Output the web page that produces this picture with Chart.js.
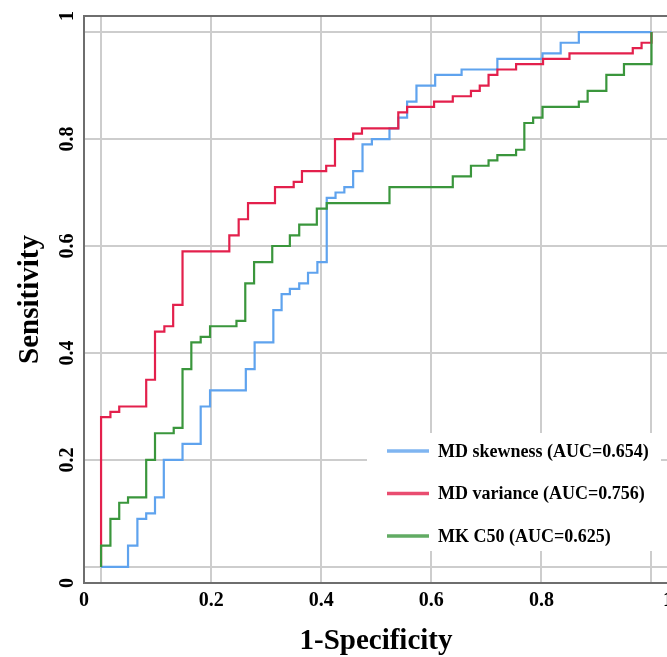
<!DOCTYPE html>
<html>
<head>
<meta charset="utf-8">
<script src="https://cdn.jsdelivr.net/npm/chart.js@4.4.0/dist/chart.umd.min.js"></script>
<style>
  html, body { margin: 0; padding: 0; background: #fff; overflow: hidden; }
  #wrap { width: 700px; height: 657px; }
</style>
</head>
<body>
<div id="wrap"><canvas id="roc" width="700" height="657"></canvas></div>
<script>
// ROC points (1-specificity, sensitivity), one point per step
const skewFpr = [0, 0.049, 0.066, 0.082, 0.098, 0.114, 0.148, 0.181, 0.198, 0.263, 0.279, 0.313, 0.328, 0.343, 0.360, 0.376, 0.393, 0.410, 0.426, 0.442, 0.458, 0.475, 0.492, 0.524, 0.540, 0.556, 0.573, 0.607, 0.655, 0.720, 0.802, 0.835, 0.868, 1];
const skewTpr = [0, 0.04, 0.09, 0.10, 0.13, 0.20, 0.23, 0.30, 0.33, 0.37, 0.42, 0.48, 0.51, 0.52, 0.53, 0.55, 0.57, 0.69, 0.70, 0.71, 0.74, 0.79, 0.80, 0.82, 0.84, 0.87, 0.90, 0.92, 0.93, 0.95, 0.96, 0.98, 1.0, 1];

const varFpr = [0, 0, 0.017, 0.033, 0.082, 0.098, 0.115, 0.131, 0.148, 0.233, 0.250, 0.267, 0.316, 0.350, 0.365, 0.409, 0.425, 0.458, 0.474, 0.540, 0.556, 0.605, 0.639, 0.672, 0.688, 0.704, 0.720, 0.754, 0.803, 0.851, 0.966, 0.982, 1];
const varTpr = [0, 0.28, 0.29, 0.30, 0.35, 0.44, 0.45, 0.49, 0.59, 0.62, 0.65, 0.68, 0.71, 0.72, 0.74, 0.75, 0.80, 0.81, 0.82, 0.85, 0.86, 0.87, 0.88, 0.89, 0.90, 0.92, 0.93, 0.94, 0.95, 0.96, 0.97, 0.98, 1];

const c50Fpr = [0, 0, 0.017, 0.033, 0.049, 0.082, 0.098, 0.132, 0.148, 0.164, 0.181, 0.198, 0.246, 0.262, 0.278, 0.311, 0.343, 0.360, 0.392, 0.410, 0.524, 0.639, 0.672, 0.704, 0.720, 0.754, 0.769, 0.785, 0.802, 0.868, 0.884, 0.918, 0.950, 1];
const c50Tpr = [0, 0.04, 0.09, 0.12, 0.13, 0.20, 0.25, 0.26, 0.37, 0.42, 0.43, 0.45, 0.46, 0.53, 0.57, 0.60, 0.62, 0.64, 0.67, 0.68, 0.71, 0.73, 0.75, 0.76, 0.77, 0.78, 0.83, 0.84, 0.86, 0.87, 0.89, 0.92, 0.94, 1];

const seriesLabels = ['MD skewness (AUC=0.654)', 'MD variance (AUC=0.756)', 'MK C50 (AUC=0.625)'];
const seriesColors = ['#5fa3ee', '#e3204c', '#3a963c'];

// axis ticks: the end labels "0" and "1" sit on the frame, the 0 / 1 gridlines are unlabeled
const xTickValues = [-0.031, 0, 0.2, 0.4, 0.6, 0.8, 1, 1.03];
const xTickLabels = ['0', '', '0.2', '0.4', '0.6', '0.8', '', '1'];
const yTickValues = [-0.03, 0, 0.2, 0.4, 0.6, 0.8, 1, 1.03];
const yTickLabels = ['0', '', '0.2', '0.4', '0.6', '0.8', '', '1'];

const FRAME = '#6e6e6e';
const GRID = '#cdcdcd';
const SERIF = "'Liberation Serif', 'Times New Roman', serif";

function toPoints(xs, ys) {
  return xs.map((x, i) => ({ x: x, y: ys[i] }));
}

function gridColor(ctx) {
  const n = ctx.chart.scales[ctx.scale.id].ticks.length;
  return (ctx.index === 0 || ctx.index === n - 1) ? FRAME : GRID;
}

// legend drawn in a white box inside the plot, lower right
const boxLegend = {
  id: 'boxLegend',
  afterDatasetsDraw(chart) {
    const { ctx, chartArea } = chart;
    const left = chartArea.right - 301;
    const top = chartArea.bottom - 150;
    ctx.save();
    ctx.fillStyle = '#fff';
    ctx.fillRect(left, top, 294, 118);
    ctx.font = "bold 18px " + SERIF;
    ctx.textBaseline = 'middle';
    ctx.fillStyle = '#000';
    chart.data.datasets.forEach((ds, i) => {
      const y = top + 18 + i * 42.5;
      ctx.globalAlpha = 0.8;
      ctx.strokeStyle = ds.borderColor;
      ctx.lineWidth = 3.5;
      ctx.beginPath();
      ctx.moveTo(left + 20, y);
      ctx.lineTo(left + 62, y);
      ctx.stroke();
      ctx.globalAlpha = 1;
      ctx.fillText(ds.label, left + 71, y + 1);
    });
    ctx.restore();
  }
};

new Chart(document.getElementById('roc'), {
  type: 'line',
  data: {
    datasets: [
      { label: seriesLabels[0], data: toPoints(skewFpr, skewTpr), borderColor: seriesColors[0], order: 3 },
      { label: seriesLabels[1], data: toPoints(varFpr, varTpr), borderColor: seriesColors[1], order: 2 },
      { label: seriesLabels[2], data: toPoints(c50Fpr, c50Tpr), borderColor: seriesColors[2], order: 1 }
    ]
  },
  options: {
    responsive: false,
    animation: false,
    events: [],
    layout: { padding: { left: 0, top: 14, right: 32, bottom: 0 } },
    elements: {
      line: { borderWidth: 2.2, stepped: 'before', fill: false },
      point: { radius: 0 }
    },
    plugins: {
      legend: { display: false },
      tooltip: { enabled: false }
    },
    scales: {
      x: {
        type: 'linear',
        min: xTickValues[0],
        max: xTickValues[xTickValues.length - 1],
        afterBuildTicks: s => { s.ticks = xTickValues.map(v => ({ value: v })); },
        afterFit: s => { s.height = 74; },
        ticks: {
          autoSkip: false,
          maxRotation: 0,
          padding: 6,
          color: '#000',
          font: { family: SERIF, size: 20, weight: 'bold' },
          callback: (v, i) => xTickLabels[i]
        },
        grid: { color: gridColor, lineWidth: 2, drawTicks: false },
        border: { display: true, color: FRAME, width: 2 },
        title: {
          display: true,
          text: '1-Specificity',
          color: '#000',
          font: { family: SERIF, size: 29, weight: 'bold', lineHeight: 1 },
          padding: { top: 0, bottom: 1 }
        }
      },
      y: {
        type: 'linear',
        min: yTickValues[0],
        max: yTickValues[yTickValues.length - 1],
        afterBuildTicks: s => { s.ticks = yTickValues.map(v => ({ value: v })); },
        afterFit: s => { s.width = 84; },
        ticks: {
          autoSkip: false,
          minRotation: 90,
          maxRotation: 90,
          crossAlign: 'center',
          padding: 4,
          color: '#000',
          font: { family: SERIF, size: 20, weight: 'bold' },
          callback: (v, i) => yTickLabels[i]
        },
        grid: { color: gridColor, lineWidth: 2, drawTicks: false },
        border: { display: true, color: FRAME, width: 2 },
        title: {
          display: true,
          text: 'Sensitivity',
          color: '#000',
          font: { family: SERIF, size: 29, weight: 'bold', lineHeight: 1 },
          padding: { top: 16, bottom: 0 }
        }
      }
    }
  },
  plugins: [boxLegend]
});
</script>
</body>
</html>
